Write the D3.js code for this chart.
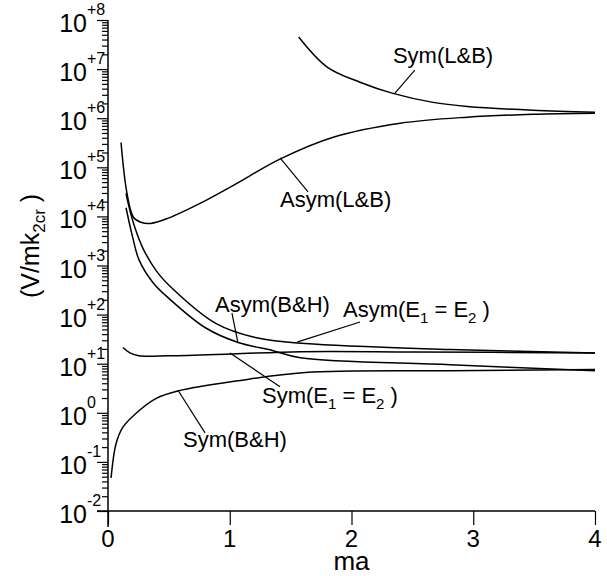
<!DOCTYPE html>
<html>
<head>
<meta charset="utf-8">
<script src="https://cdn.jsdelivr.net/npm/d3@7"></script>
<style>
    body { margin: 0; background: white; }
    text { font-family: "Liberation Sans", Arial, sans-serif; fill: black; }
</style>
</head>
<body>
<div id="chart"></div>
<script>
// curve data (ma, V/mk2cr)
var symLB_ma = [1.566, 1.80, 2.07, 2.34, 2.67, 2.95, 3.49, 4.0];
var symLB_v = [4.5e7, 1.1e7, 5.4e6, 3.2e6, 2.1e6, 1.74e6, 1.45e6, 1.32e6];

var asymLB_ma = [0.107, 0.156, 0.21, 0.27, 0.35, 0.49, 0.76, 1.03, 1.42, 1.85, 2.40, 2.95, 3.49, 4.0];
var asymLB_v = [3.2e5, 2.95e4, 9.5e3, 7.6e3, 7.2e3, 9.1e3, 1.86e4, 4.3e4, 1.5e5, 4.1e5, 7.9e5, 1.05e6, 1.2e6, 1.26e6];

var asymE_ma = [0.148, 0.172, 0.22, 0.287, 0.40, 0.533, 0.885, 1.21, 1.62, 2.81, 4.0];
var asymE_v = [2.95e4, 1.58e4, 6.0e3, 2.24e3, 759, 331, 66, 34, 25.7, 19.5, 16.6];

var asymBH_ma = [0.148, 0.2, 0.254, 0.37, 0.5, 0.80, 1.07, 1.35, 1.58, 2.81, 4.0];
var asymBH_v = [1.5e4, 4.0e3, 1.32e3, 447, 214, 54, 27, 18.6, 13.2, 9.5, 7.2];

var symE_ma = [0.123, 0.18, 0.254, 0.5, 1.02, 1.58, 2.5, 4.0];
var symE_v = [21.4, 16.6, 14.5, 14.5, 15.8, 17.6, 17.4, 16.6];

var symBH_ma = [0.025, 0.066, 0.12, 0.254, 0.393, 0.58, 1.07, 1.62, 2.81, 4.0];
var symBH_v = [0.047, 0.234, 0.5, 1.1, 1.95, 2.8, 4.5, 6.6, 7.2, 7.6];

var xTicks = [0, 1, 2, 3, 4];
var yExps = [8, 7, 6, 5, 4, 3, 2, 1, 0, -1, -2];
var yExpLabels = ["+8", "+7", "+6", "+5", "+4", "+3", "+2", "+1", "0", "-1", "-2"];

var series = [
    {name: "Sym(L&B)", ma: symLB_ma, v: symLB_v},
    {name: "Asym(L&B)", ma: asymLB_ma, v: asymLB_v},
    {name: "Asym(E1=E2)", ma: asymE_ma, v: asymE_v},
    {name: "Asym(B&H)", ma: asymBH_ma, v: asymBH_v},
    {name: "Sym(E1=E2)", ma: symE_ma, v: symE_v},
    {name: "Sym(B&H)", ma: symBH_ma, v: symBH_v}
];

// label text parts: [text, isSubscript]; pos = label start, from/to = leader line (ma, exponent)
var notes = [
    {parts: [["Sym(L&B)", 0]], pos: [2.34, 7.12], from: [2.52, 6.98], to: [2.357, 6.51]},
    {parts: [["Asym(L&B)", 0]], pos: [1.413, 4.19], from: [1.413, 5.19], to: [1.643, 4.50]},
    {parts: [["Asym(B&H)", 0]], pos: [0.879, 2.05], from: [1.018, 2.03], to: [1.068, 1.42]},
    {parts: [["Asym(E", 0], ["1", 1], [" = E", 0], ["2", 1], [" )", 0]], pos: [1.93, 1.95], from: [2.07, 1.85], to: [1.552, 1.44]},
    {parts: [["Sym(E", 0], ["1", 1], [" = E", 0], ["2", 1], [" )", 0]], pos: [1.265, 0.20], from: [1.413, 0.53], to: [1.002, 1.22]},
    {parts: [["Sym(B&H)", 0]], pos: [0.616, -0.70], from: [0.797, -0.41], to: [0.575, 0.46]}
];

var width = 607, height = 576;
var margin = {top: 20, right: 12, bottom: 65, left: 108};
var plotRight = width - margin.right;
var plotBottom = height - margin.bottom;

var svg = d3.select("#chart").append("svg")
    .attr("width", width)
    .attr("height", height);

var x = d3.scaleLinear().domain([0, 4]).range([margin.left, plotRight]);
var y = d3.scaleLog().domain([1e-2, 1e8]).range([plotBottom, margin.top]);

// y axis: minor ticks then major
var minor = [];
for (var e = -2; e < 8; e++) {
    for (var k = 2; k <= 9; k++) minor.push(k * Math.pow(10, e));
}
var majors = yExps.map(function(p) { return Math.pow(10, p); });

svg.append("g")
    .attr("transform", "translate(" + margin.left + ",0)")
    .call(d3.axisLeft(y).tickValues(minor).tickSize(6).tickFormat(""))
    .call(function(g) { g.select(".domain").remove(); });

svg.append("g")
    .attr("transform", "translate(" + margin.left + ",0)")
    .call(d3.axisLeft(y).tickValues(majors).tickSize(11).tickFormat(""))
    .call(function(g) { g.select(".domain").remove(); });

svg.selectAll(".ytl").data(yExps).enter()
    .append("text")
    .attr("class", "ytl")
    .attr("x", 87)
    .attr("y", function(d) { return y(Math.pow(10, d)) + 12; })
    .attr("text-anchor", "end")
    .style("font-size", "25px")
    .text("10");

svg.selectAll(".yexp").data(yExps).enter()
    .append("text")
    .attr("class", "yexp")
    .attr("x", 87)
    .attr("y", function(d) { return y(Math.pow(10, d)) - 5; })
    .style("font-size", "16px")
    .text(function(d, i) { return yExpLabels[i]; });

// x axis
svg.append("g")
    .attr("transform", "translate(0," + plotBottom + ")")
    .call(d3.axisBottom(x).tickValues(xTicks).tickSize(14).tickFormat(""))
    .call(function(g) { g.select(".domain").remove(); });

svg.selectAll(".xtl").data(xTicks).enter()
    .append("text")
    .attr("class", "xtl")
    .attr("x", function(d) { return x(d); })
    .attr("y", 547)
    .attr("text-anchor", "middle")
    .style("font-size", "24px")
    .text(function(d) { return d; });

// axis lines
svg.append("line")
    .attr("x1", margin.left).attr("x2", margin.left)
    .attr("y1", margin.top).attr("y2", plotBottom + 16)
    .attr("stroke", "black").attr("stroke-width", 1.5);
svg.append("line")
    .attr("x1", margin.left - 11).attr("x2", plotRight)
    .attr("y1", plotBottom).attr("y2", plotBottom)
    .attr("stroke", "black").attr("stroke-width", 1.5);
svg.selectAll(".tick line").attr("stroke", "black").attr("stroke-width", 1.2);

svg.append("text")
    .attr("x", x(2))
    .attr("y", 570)
    .attr("text-anchor", "middle")
    .style("font-size", "26px")
    .text("ma");

var yLab = svg.append("text")
    .attr("transform", "translate(39,246) rotate(-90)")
    .attr("text-anchor", "middle")
    .style("font-size", "25px");
yLab.append("tspan").text("(V/mk");
yLab.append("tspan").attr("dy", 6).style("font-size", "17px").text("2cr");
yLab.append("tspan").attr("dy", -6).text(" )");

// curves
var line = d3.line()
    .x(function(d) { return x(d[0]); })
    .y(function(d) { return y(d[1]); })
    .curve(d3.curveCatmullRom.alpha(0.5));

svg.selectAll(".curve").data(series).enter()
    .append("path")
    .attr("class", "curve")
    .attr("d", function(s) {
        return line(s.ma.map(function(m, i) { return [m, s.v[i]]; }));
    })
    .attr("fill", "none")
    .attr("stroke", "black")
    .attr("stroke-width", 1.5);

// labels with leader lines
svg.selectAll(".leader").data(notes).enter()
    .append("line")
    .attr("class", "leader")
    .attr("x1", function(d) { return x(d.from[0]); })
    .attr("y1", function(d) { return y(Math.pow(10, d.from[1])); })
    .attr("x2", function(d) { return x(d.to[0]); })
    .attr("y2", function(d) { return y(Math.pow(10, d.to[1])); })
    .attr("stroke", "black")
    .attr("stroke-width", 1.2);

notes.forEach(function(n) {
    var t = svg.append("text")
        .attr("x", x(n.pos[0]))
        .attr("y", y(Math.pow(10, n.pos[1])))
        .style("font-size", "22px");
    var shifted = false;
    n.parts.forEach(function(p) {
        var ts = t.append("tspan").text(p[0]);
        if (p[1]) {
            ts.attr("dy", 6).style("font-size", "15px");
            shifted = true;
        } else if (shifted) {
            ts.attr("dy", -6);
            shifted = false;
        }
    });
});
</script>
</body>
</html>
